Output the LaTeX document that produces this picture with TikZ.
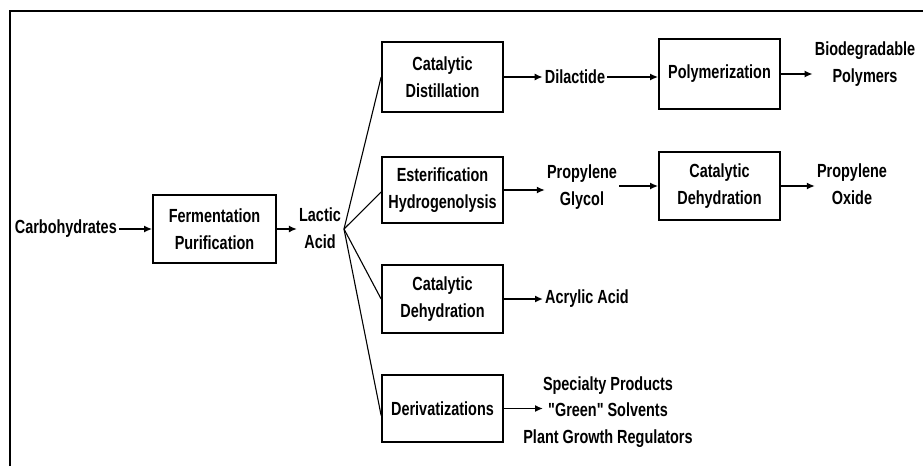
\documentclass[tikz,border=0pt]{standalone}
\usepackage{fontspec}
\newfontfamily\diafont{Liberation Sans}[Ligatures=TeXOff,FakeStretch=0.76]
\usetikzlibrary{arrows.meta,calc}
\begin{document}
\begin{tikzpicture}[x=1pt,y=-1pt,
  every node/.style={font=\diafont\bfseries\fontsize{19}{26.5}\selectfont, align=center, inner sep=2pt},
  procbox/.style={draw, line width=1.7pt, inner sep=0pt},
  conn/.style={line width=1.7pt, -{Latex[length=8pt,width=7pt]}},
  fanline/.style={line width=1.1pt}]
\useasboundingbox (0,0) rectangle (923,466);
\draw[line width=2.6pt] (10,466) -- (10,11) -- (923,11);
% process boxes
\node[procbox, minimum width=123pt, minimum height=68pt] (ferm) at (214.5,229) {Fermentation\\Purification};
\node[procbox, minimum width=121pt, minimum height=70pt] (cdist) at (442.5,77) {Catalytic\\Distillation};
\node[procbox, minimum width=121pt, minimum height=66pt] (ester) at (442.5,190) {Esterification\\Hydrogenolysis};
\node[procbox, minimum width=121pt, minimum height=68pt] (cdeh) at (442.5,299) {Catalytic\\Dehydration};
\node[procbox, minimum width=121pt, minimum height=67pt] (deriv) at (442.5,408.5) {Derivatizations};
\node[procbox, minimum width=121pt, minimum height=70pt] (poly) at (719.5,74) {Polymerization};
\node[procbox, minimum width=121pt, minimum height=68pt] (cdeh2) at (719.5,186) {Catalytic\\Dehydration};
% texts
\node[anchor=east] (carb) at (119,229) {Carbohydrates};
\node (lactic) at (320,228) {Lactic\\Acid};
\node (dilac) at (575,77) {Dilactide};
\node (biodeg) at (865,64) {Biodegradable\\Polymers};
\node (pglycol) at (582,187) {Propylene\\Glycol};
\node (poxide) at (852,184) {Propylene\\Oxide};
\node[anchor=west] (acryl) at (543,299) {Acrylic Acid};
\node (spec) at (608,412) {Specialty Products\\"Green" Solvents\\Plant Growth Regulators};
\coordinate (fan) at (344,229);
% connectors
\draw[conn] (carb.east) -- (ferm.west);
\draw[conn] (ferm.east) -- (ferm.east -| lactic.west);
\draw[fanline] (fan) -- (cdist.west);
\draw[fanline] (fan) -- ($(ester.west)+(0,2)$);
\draw[fanline] (fan) -- (cdeh.west);
\draw[fanline] (fan) -- ($(deriv.west)+(0,7)$);
\draw[conn] (cdist.east) -- (cdist.east -| dilac.west);
\draw[conn] (dilac.east) -- (dilac.east -| poly.west);
\draw[conn] (poly.east) -- (poly.east -| biodeg.west);
\draw[conn] (ester.east) -- (ester.east -| pglycol.west);
\draw[conn] (pglycol.east |- cdeh2.west) -- (cdeh2.west);
\draw[conn] (cdeh2.east) -- (cdeh2.east -| poxide.west);
\draw[conn] (cdeh.east) -- (acryl.west);
\draw[conn] (deriv.east) -- (deriv.east -| acryl.west);
\end{tikzpicture}
\end{document}
